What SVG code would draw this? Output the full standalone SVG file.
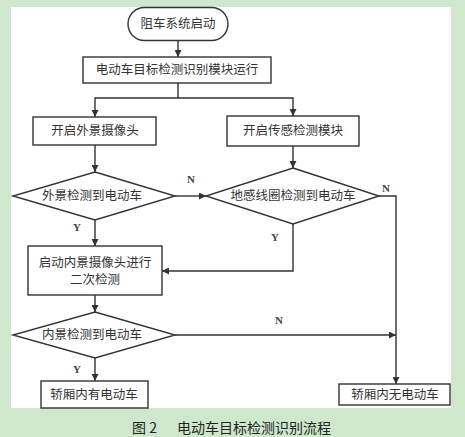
<svg xmlns="http://www.w3.org/2000/svg" width="465" height="437" viewBox="0 0 465 437">
<defs>
<style>
.shape{fill:#fff;stroke:#333;stroke-width:1.4}
.t{font-family:"Liberation Serif","Noto Sans CJK SC",serif;font-size:12.5px;fill:#333;text-anchor:middle;dominant-baseline:central}
.lbl{font-family:"Liberation Serif","Noto Sans CJK SC",serif;font-size:11px;font-weight:bold;fill:#444;text-anchor:middle;dominant-baseline:central}
.c{fill:none;stroke:#333;stroke-width:1.4}
.cap{font-family:"Noto Sans CJK SC","Noto Sans",sans-serif;font-size:14px;fill:#222;dominant-baseline:central}
</style>
<marker id="arr" viewBox="0 0 10 10" refX="10" refY="5" markerWidth="7" markerHeight="7" markerUnits="userSpaceOnUse" orient="auto">
<path d="M0,0 L10,5 L0,10 z" fill="#333"/>
</marker>
</defs>
<rect x="0" y="0" width="465" height="437" fill="#cfe8cd"/>
<rect x="11" y="7" width="440" height="401" fill="#fff"/>

<g id="connectors">
<path class="c" d="M178,41 V57" marker-end="url(#arr)"/>
<path class="c" d="M178,83 V98 H95 V117" marker-end="url(#arr)"/>
<path class="c" d="M178,98 H293 V116" marker-end="url(#arr)"/>
<path class="c" d="M95,145 V172" marker-end="url(#arr)"/>
<path class="c" d="M293,146 V168" marker-end="url(#arr)"/>
<path class="c" d="M175,196 H206" marker-end="url(#arr)"/>
<path class="c" d="M95,220 V246" marker-end="url(#arr)"/>
<path class="c" d="M293,224 V271 H162" marker-end="url(#arr)"/>
<path class="c" d="M379,196 H396 V384" marker-end="url(#arr)"/>
<path class="c" d="M95,295 V312" marker-end="url(#arr)"/>
<path class="c" d="M175,335 H396" marker-end="url(#arr)"/>
<path class="c" d="M95,358 V381" marker-end="url(#arr)"/>
<text class="lbl" x="191" y="179">N</text>
<text class="lbl" x="386" y="188">N</text>
<text class="lbl" x="77" y="227">Y</text>
<text class="lbl" x="275" y="237">Y</text>
<text class="lbl" x="279" y="320">N</text>
<text class="lbl" x="77" y="369">Y</text>
</g>

<g id="start">
<rect class="shape" x="128" y="7.5" width="100" height="33" rx="16.5"/>
<text class="t" x="178" y="24">阻车系统启动</text>
</g>
<g id="module">
<rect class="shape" x="83" y="57" width="188" height="26"/>
<text class="t" x="177" y="70">电动车目标检测识别模块运行</text>
</g>
<g id="outer-cam">
<rect class="shape" x="33" y="117" width="123" height="28"/>
<text class="t" x="95" y="131">开启外景摄像头</text>
</g>
<g id="sensor">
<rect class="shape" x="227" y="116" width="132" height="30"/>
<text class="t" x="293" y="131">开启传感检测模块</text>
</g>
<g id="outer-detect">
<polygon class="shape" points="95,172 175,196 95,220 13,196"/>
<text class="t" x="92" y="196">外景检测到电动车</text>
</g>
<g id="loop-detect">
<polygon class="shape" points="293,168 379,196 293,224 206,196"/>
<text class="t" x="293" y="196">地感线圈检测到电动车</text>
</g>
<g id="inner-cam">
<rect class="shape" x="28" y="246" width="134" height="49"/>
<text class="t" x="95" y="263">启动内景摄像头进行</text>
<text class="t" x="95" y="280">二次检测</text>
</g>
<g id="inner-detect">
<polygon class="shape" points="95,312 175,335 95,358 13,335"/>
<text class="t" x="92" y="335">内景检测到电动车</text>
</g>
<g id="has-ev">
<rect class="shape" x="41" y="381" width="107" height="27"/>
<text class="t" x="94" y="395">轿厢内有电动车</text>
</g>
<g id="no-ev">
<rect class="shape" x="339" y="384" width="111" height="21"/>
<text class="t" x="395" y="395">轿厢内无电动车</text>
</g>
<text class="cap" x="132" y="427">图 2</text>
<text class="cap" x="177" y="427">电动车目标检测识别流程</text>
</svg>
